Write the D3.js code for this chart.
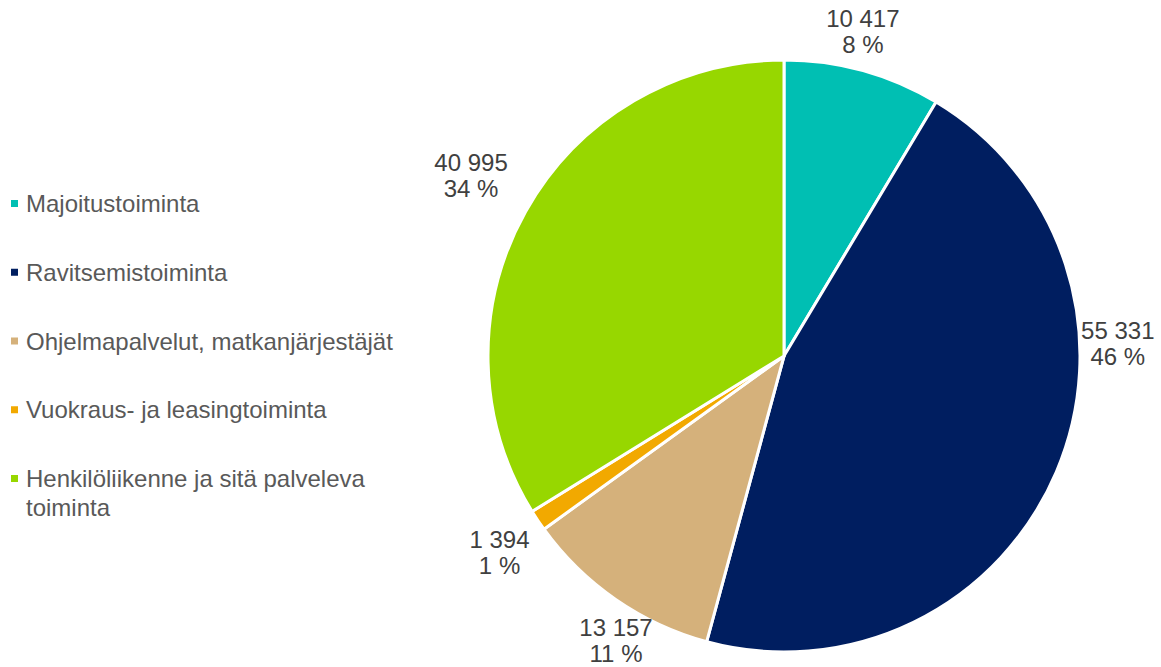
<!DOCTYPE html>
<html>
<head>
<meta charset="utf-8">
<script src="https://cdn.jsdelivr.net/npm/d3@7"></script>
<style>
  body { margin: 0; background: #fff; }
  text { font-family: Arial, "Liberation Sans", sans-serif; }
</style>
</head>
<body>
<div id="chart"></div>
<script>
// data
var categories = ["Majoitustoiminta", "Ravitsemistoiminta", "Ohjelmapalvelut, matkanjärjestäjät",
                  "Vuokraus- ja leasingtoiminta", "Henkilöliikenne ja sitä palveleva toiminta"];
var values = [10417, 55331, 13157, 1394, 40995];
var percents = ["8 %", "46 %", "11 %", "1 %", "34 %"];
var colors = ["#00bfb3", "#001e60", "#d5b17b", "#f2a900", "#97d700"];

// legend lines (wrapped like the original)
var legendLines = [["Majoitustoiminta"], ["Ravitsemistoiminta"], ["Ohjelmapalvelut, matkanjärjestäjät"],
                   ["Vuokraus- ja leasingtoiminta"], ["Henkilöliikenne ja sitä palveleva", "toiminta"]];

// label placement: angle (deg, clockwise from top) and distance from centre
var labelAngle = [13.7, 88, 210.5, 235.3, 299.9];
var labelDist = [333, 334, 331, 346, 361];

const width = 1161, height = 667;
const cx = 784, cy = 356, radius = 296;

const svg = d3.select("#chart").append("svg")
    .attr("width", width)
    .attr("height", height);

var fmt = d3.formatLocale({decimal: ",", thousands: " ", grouping: [3], currency: ["", ""]}).format(",d");

var pie = d3.pie().sort(null).value(function(d){ return d; });
var arc = d3.arc().innerRadius(0).outerRadius(radius);

var g = svg.append("g").attr("transform", "translate(" + cx + "," + cy + ")");

g.selectAll("path")
    .data(pie(values))
    .enter()
    .append("path")
    .attr("d", arc)
    .attr("fill", function(d, i){ return colors[i]; })
    .attr("stroke", "#fff")
    .attr("stroke-width", 3)
    .attr("stroke-linejoin", "round");

// data labels
var labels = g.selectAll("text.lbl")
    .data(values)
    .enter()
    .append("text")
    .attr("class", "lbl")
    .attr("text-anchor", "middle")
    .style("font-size", "24px")
    .style("fill", "#404040")
    .attr("transform", function(d, i){
        var a = labelAngle[i] * Math.PI / 180;
        return "translate(" + (labelDist[i] * Math.sin(a)) + "," + (-labelDist[i] * Math.cos(a)) + ")";
    });

labels.append("tspan")
    .attr("x", 0)
    .attr("y", -5)
    .text(function(d){ return fmt(d); });

labels.append("tspan")
    .attr("x", 0)
    .attr("y", 21)
    .text(function(d, i){ return percents[i]; });

// legend
var legend = svg.append("g");
var legendY = d3.scalePoint().domain(d3.range(categories.length)).range([204, 479]);

var items = legend.selectAll("g")
    .data(categories)
    .enter()
    .append("g")
    .attr("transform", function(d, i){ return "translate(0," + legendY(i) + ")"; });

items.append("rect")
    .attr("x", 11)
    .attr("y", -4)
    .attr("width", 7)
    .attr("height", 7)
    .attr("fill", function(d, i){ return colors[i]; });

items.append("text")
    .attr("x", 26)
    .attr("y", 8)
    .style("font-size", "24px")
    .style("fill", "#595959")
    .selectAll("tspan")
    .data(function(d, i){ return legendLines[i]; })
    .enter()
    .append("tspan")
    .attr("x", 26)
    .attr("dy", function(d, j){ return j === 0 ? 0 : 29; })
    .text(function(d){ return d; });
</script>
</body>
</html>
